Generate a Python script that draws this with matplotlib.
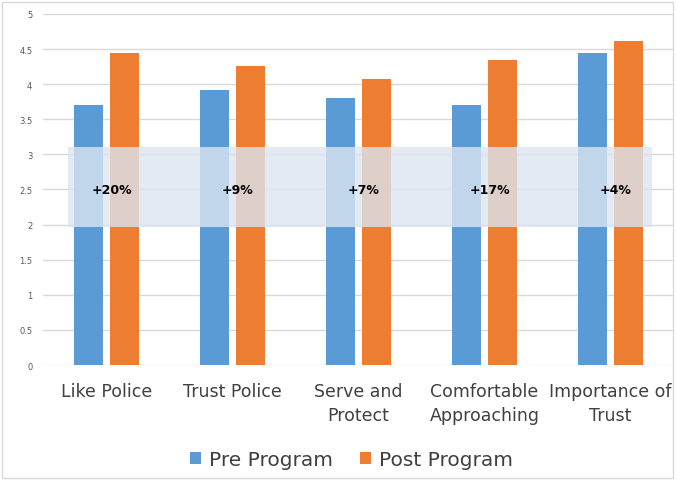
import numpy as np
import matplotlib.pyplot as plt
from matplotlib.patches import Rectangle

categorias = ['Like Police', 'Trust Police', 'Serve and\nProtect',
              'Comfortable\nApproaching', 'Importance of\nTrust']
pre = [3.71, 3.91, 3.80, 3.71, 4.45]
pos = [4.45, 4.26, 4.07, 4.34, 4.62]
ganhos = ['+20%', '+9%', '+7%', '+17%', '+4%']
yticks = [0, 0.5, 1, 1.5, 2, 2.5, 3, 3.5, 4, 4.5, 5]
ytick_labels = ['0', '0.5', '1', '1.5', '2', '2.5', '3', '3.5', '4', '4.5', '5']

azul = '#5B9BD5'
laranja = '#ED7D31'

fig = plt.figure(figsize=(6.76, 4.81), dpi=100)
ax = fig.add_axes([0.0643, 0.239, 0.932, 0.730])

x = np.arange(len(categorias))
largura = 0.23
desloc = 0.1425
ax.bar(x - desloc, pre, largura, color=azul, label='Pre Program', zorder=2)
ax.bar(x + desloc, pos, largura, color=laranja, label='Post Program', zorder=2)

# faixa semi-transparente com os ganhos
ax.add_patch(Rectangle((-0.305, 1.97), 4.635, 1.13, facecolor='#DCE5F0',
                       alpha=0.8, edgecolor='none', zorder=3))
for i, g in enumerate(ganhos):
    ax.text(x[i] + 0.04, 2.5, g, ha='center', va='center', fontsize=9,
            fontweight='bold', color='black', zorder=4)

ax.set_xlim(-0.5, 4.5)
ax.set_ylim(0, 5)
ax.set_yticks(yticks)
ax.set_yticklabels(ytick_labels)
ax.set_xticks(x)
ax.set_xticklabels(categorias, linespacing=1.45)
ax.yaxis.grid(True, color='#D9D9D9', linewidth=1, zorder=0)
ax.set_axisbelow(True)
for s in ax.spines.values():
    s.set_visible(False)
ax.tick_params(axis='y', length=0, labelsize=6, labelcolor='#595959', pad=8)
ax.tick_params(axis='x', length=0, labelsize=12.5, labelcolor='#404040', pad=12)

fig.legend(loc='center', bbox_to_anchor=(0.52, 0.043), ncol=2, frameon=False,
           fontsize=14.5, handlelength=0.55, handleheight=0.55, columnspacing=1.3,
           handletextpad=0.4, labelcolor='#404040')

fig.add_artist(Rectangle((0.003, 0.004), 0.992, 0.99, transform=fig.transFigure,
                         fill=False, edgecolor='#D9D9D9', linewidth=1))

fig.savefig('out.png', dpi=100)
